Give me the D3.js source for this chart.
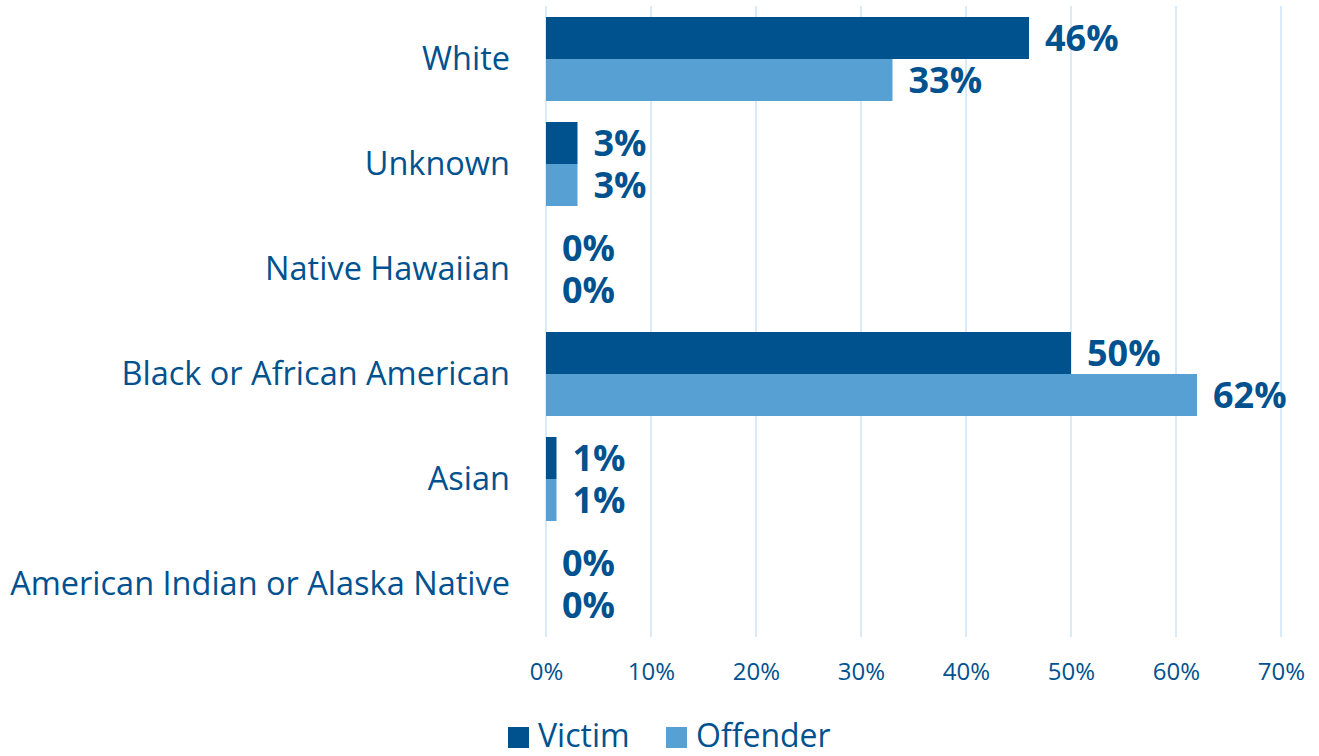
<!DOCTYPE html>
<html><head><meta charset="utf-8">
<script src="https://cdn.jsdelivr.net/npm/d3@7"></script>
<style>body{margin:0;background:#fff;overflow:hidden}svg{display:block}</style>
</head><body>
<svg id="c" width="1319" height="756"></svg>
<script>
const categories = ["White","Unknown","Native Hawaiian","Black or African American","Asian","American Indian or Alaska Native"];
const series = ["Victim","Offender"];
const victim = [46,3,0,50,1,0];
const offender = [33,3,0,62,1,0];
const ticks = [0,10,20,30,40,50,60,70];
const colors = {Victim:"#00528F", Offender:"#56A0D3"};
const textColor = "#00528F";
const font = "'Open Sans', 'Noto Sans', sans-serif";

const svg = d3.select("#c");
const x = d3.scaleLinear().domain([0,70]).range([546,1281]);
const y = d3.scaleBand().domain(categories).range([6.5,636.5]).paddingInner(0.2).paddingOuter(0.1);
const ys = d3.scaleBand().domain(series).range([0,y.bandwidth()]);

// gridlines
svg.append("g").selectAll("line").data(ticks).join("line")
  .attr("x1",d=>x(d)).attr("x2",d=>x(d)).attr("y1",6).attr("y2",637)
  .attr("stroke","#CCE4F7").attr("stroke-width",1.5);

// axis
const ax = svg.append("g").attr("transform","translate(0,637)")
  .call(d3.axisBottom(x).tickValues(ticks).tickFormat(d=>d+"%").tickSize(0).tickPadding(26));
ax.select(".domain").remove();
ax.selectAll("text").attr("fill",textColor).style("font-family",font).style("font-size","24px");

// category labels
const catG = svg.append("g");
const catT = catG.selectAll("text").data(categories).join("text")
  .attr("x",510).attr("y",d=>y(d)+y.bandwidth()/2).attr("dy","0.35em")
  .attr("text-anchor","end").attr("fill",textColor)
  .style("font-family",font).style("font-size","28px").text(d=>d);
// fit longest label to reference width (~500px)
const longest = catT.filter(d=>d===categories[5]).node();
const w = longest.getComputedTextLength();
catT.style("font-size",(28*500/w)+"px");

const rows = categories.map((c,i)=>({c, vals:[{s:"Victim",v:victim[i]},{s:"Offender",v:offender[i]}]}));
const g = svg.append("g").selectAll("g").data(rows).join("g")
  .attr("transform",d=>`translate(0,${y(d.c)})`);
g.selectAll("rect").data(d=>d.vals).join("rect")
  .attr("x",x(0)).attr("y",d=>ys(d.s)).attr("width",d=>x(d.v)-x(0)).attr("height",ys.bandwidth())
  .attr("fill",d=>colors[d.s]);
g.selectAll("text").data(d=>d.vals).join("text")
  .attr("x",d=>x(d.v)+16).attr("y",d=>ys(d.s)+ys.bandwidth()/2).attr("dy","0.36em")
  .attr("fill",textColor).style("font-family",font).style("font-weight","bold").style("font-size","36px")
  .text(d=>d.v+"%");

// legend
const leg = svg.append("g");
const lx = [508,666];
series.forEach((s,i)=>{
  leg.append("rect").attr("x",lx[i]).attr("y",727).attr("width",21).attr("height",21).attr("fill",colors[s]);
  leg.append("text").attr("x",lx[i]+30).attr("y",747).attr("fill",textColor)
    .style("font-family",font).style("font-size","32px").text(s);
});
</script>
</body></html>
